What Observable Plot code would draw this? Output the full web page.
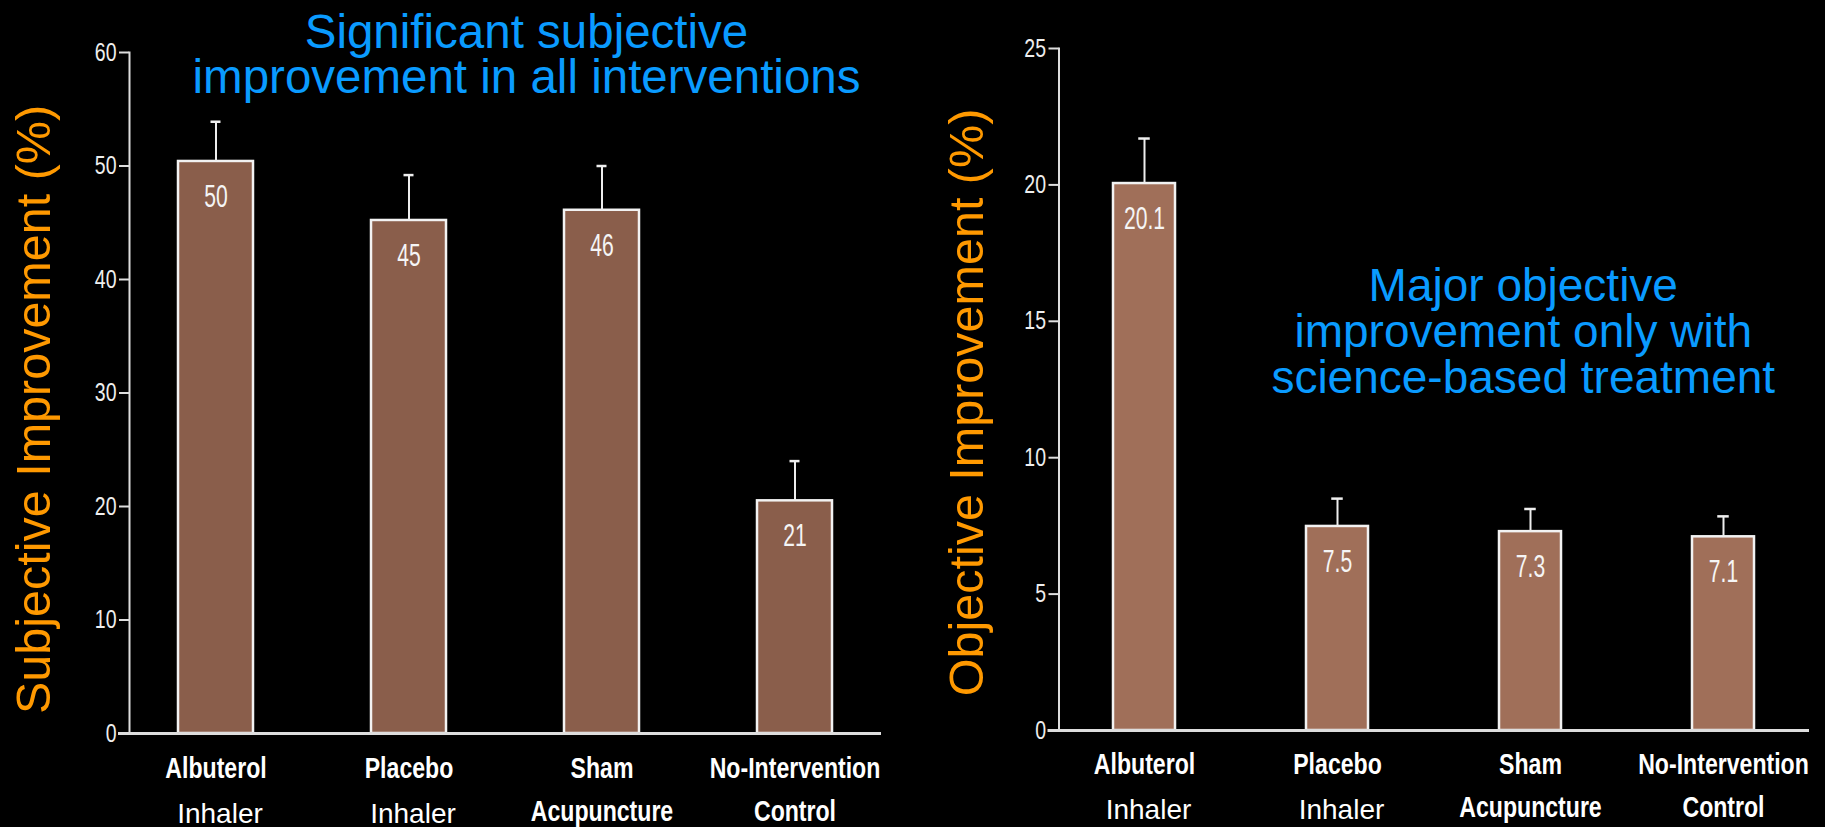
<!DOCTYPE html>
<html><head><meta charset="utf-8">
<script src="https://cdn.jsdelivr.net/npm/d3@7"></script>
<script src="https://cdn.jsdelivr.net/npm/@observablehq/plot@0.6"></script>
<style>
html,body{margin:0;padding:0;background:#000;width:1825px;height:827px;overflow:hidden}
#wrap{position:relative;width:1825px;height:827px}
.panel{position:absolute;top:0}
</style></head><body>
<div id="wrap"><div id="left" class="panel" style="left:0px"></div><div id="right" class="panel" style="left:915px"></div></div>
<script>
const categories = ["Albuterol", "Placebo", "Sham", "No-Intervention"];
const subLabels = ["Inhaler", "Inhaler", "Acupuncture", "Control"];
const subjectiveValues = [50.4, 45.2, 46.1, 20.5];
const subjectiveErrTop = [53.9, 49.2, 50.0, 24.0];
const subjectiveLabels = ["50", "45", "46", "21"];
const subjectiveTicks = [0, 10, 20, 30, 40, 50, 60];
const objectiveValues = [20.05, 7.48, 7.29, 7.1];
const objectiveErrTop = [21.7, 8.5, 8.12, 7.85];
const objectiveLabels = ["20.1", "7.5", "7.3", "7.1"];
const objectiveTicks = [0, 5, 10, 15, 20, 25];
const leftTitle = "Significant subjective\nimprovement in all interventions";
const rightTitle = "Major objective\nimprovement only with\nscience-based treatment";
const leftYLabel = "Subjective Improvement (%)";
const rightYLabel = "Objective Improvement (%)";

// narrow (condensed) lettering is made by horizontally scaling Liberation Sans after rendering
const NARROW = "'Liberation Sans', 'Arial Narrow', Arial, sans-serif";
const ARIAL = "'Liberation Sans', Arial, sans-serif";
const condenseBySize = {"25": 0.78, "30": 0.77, "32": 0.66};

function makeRows(values, errs, labels) {
  return categories.map((c, i) => ({cat: c, sub: subLabels[i], value: values[i], err: errs[i], label: labels[i]}));
}

function condense(svg) {
  svg.querySelectorAll("g").forEach(g => {
    if (g.getAttribute("font-family") !== NARROW) return;
    const s = condenseBySize[String(Math.round(+g.getAttribute("font-size")))] || 0.8;
    g.querySelectorAll("text").forEach(t => {
      const x = +(t.getAttribute("x") || 0);
      const tr = t.getAttribute("transform") || "";
      t.setAttribute("transform", `${tr} translate(${x},0) scale(${s},1) translate(${-x},0)`);
    });
  });
  return svg;
}

function panel(o) {
  const rows = makeRows(o.values, o.errs, o.labels);
  const capInset = (o.bandwidth - o.cap) / 2;
  const svg = Plot.plot({
    width: 910, height: 827,
    marginLeft: o.marginLeft, marginRight: o.marginRight,
    marginTop: o.marginTop, marginBottom: o.marginBottom,
    style: {background: "transparent", color: "#fff", overflow: "visible"},
    x: {domain: categories, paddingInner: o.paddingInner, paddingOuter: o.paddingOuter, axis: null},
    y: {domain: o.domain, axis: null},
    marks: [
      Plot.barY(rows, {x: "cat", y: "value", fill: o.fill, stroke: "#f2f2f2", strokeWidth: 2.5}),
      Plot.ruleX(rows, {x: "cat", y1: "value", y2: "err", stroke: "#eeeeee", strokeWidth: 2}),
      Plot.tickY(rows, {x: "cat", y: "err", stroke: "#eeeeee", strokeWidth: 2.5, insetLeft: capInset, insetRight: capInset}),
      Plot.text(rows, {x: "cat", y: "value", text: "label", dy: 35, lineAnchor: "middle", fill: "#f5f5f5", fontSize: 32, fontFamily: NARROW}),
      Plot.ruleY([0], {stroke: "#dddddd", strokeWidth: 3, insetLeft: -11}),
      Plot.frame({anchor: "left", stroke: "#dddddd", strokeWidth: 2}),
      Plot.axisY({ticks: o.ticks, tickSize: 10, tickPadding: 3, strokeWidth: 2, fontSize: 25, fontFamily: NARROW, fill: "#eeeeee", stroke: "#dddddd", label: null}),
      Plot.text(rows, {x: "cat", text: "cat", frameAnchor: "bottom", lineAnchor: "middle", dy: o.line1Dy, fill: "#fff", fontSize: 30, fontWeight: "bold", fontFamily: NARROW}),
      Plot.text(rows.filter(d => d.sub === "Inhaler"), {x: "cat", text: "sub", frameAnchor: "bottom", lineAnchor: "middle", dx: 4, dy: o.line2Dy + 3, fill: "#fff", fontSize: 28, fontFamily: ARIAL}),
      Plot.text(rows.filter(d => d.sub !== "Inhaler"), {x: "cat", text: "sub", frameAnchor: "bottom", lineAnchor: "middle", dy: o.line2Dy, fill: "#fff", fontSize: 30, fontWeight: "bold", fontFamily: NARROW}),
      Plot.text([o.yLabel], {frameAnchor: "left", textAnchor: "middle", lineAnchor: "middle", rotate: -90, dx: o.yLabelDx, dy: o.yLabelDy, fill: "#FF9900", fontSize: 48.5, fontFamily: ARIAL}),
      Plot.text([o.title], {frameAnchor: o.titleAnchor, textAnchor: "middle", lineAnchor: "middle", dx: o.titleDx, dy: o.titleDy, fill: "#0A9BFF", fontSize: o.titleSize, lineHeight: o.titleLineHeight, fontFamily: ARIAL})
    ]
  });
  return condense(svg);
}

document.getElementById("left").append(panel({
  values: subjectiveValues, errs: subjectiveErrTop, labels: subjectiveLabels, ticks: subjectiveTicks,
  domain: [0, 60], marginLeft: 129, marginRight: 29, marginTop: 52, marginBottom: 94,
  paddingInner: 0.613, paddingOuter: 0.245, bandwidth: 75, cap: 10,
  fill: "#8A5E4B", line1Dy: 35, line2Dy: 78,
  yLabel: leftYLabel, yLabelDx: -95, yLabelDy: 16.5,
  title: leftTitle, titleAnchor: "top", titleDx: 21, titleDy: 3.5, titleSize: 47.5, titleLineHeight: 0.96
}));

document.getElementById("right").append(panel({
  values: objectiveValues, errs: objectiveErrTop, labels: objectiveLabels, ticks: objectiveTicks,
  domain: [0, 25], marginLeft: 143.5, marginRight: 16, marginTop: 48, marginBottom: 97,
  paddingInner: 0.677, paddingOuter: 0.276, bandwidth: 62.5, cap: 12,
  fill: "#A06F59", line1Dy: 34, line2Dy: 77,
  yLabel: rightYLabel, yLabelDx: -92, yLabelDy: 13,
  title: rightTitle, titleAnchor: "middle", titleDx: 89, titleDy: -57, titleSize: 46, titleLineHeight: 1.0
}));
</script>
</body></html>
